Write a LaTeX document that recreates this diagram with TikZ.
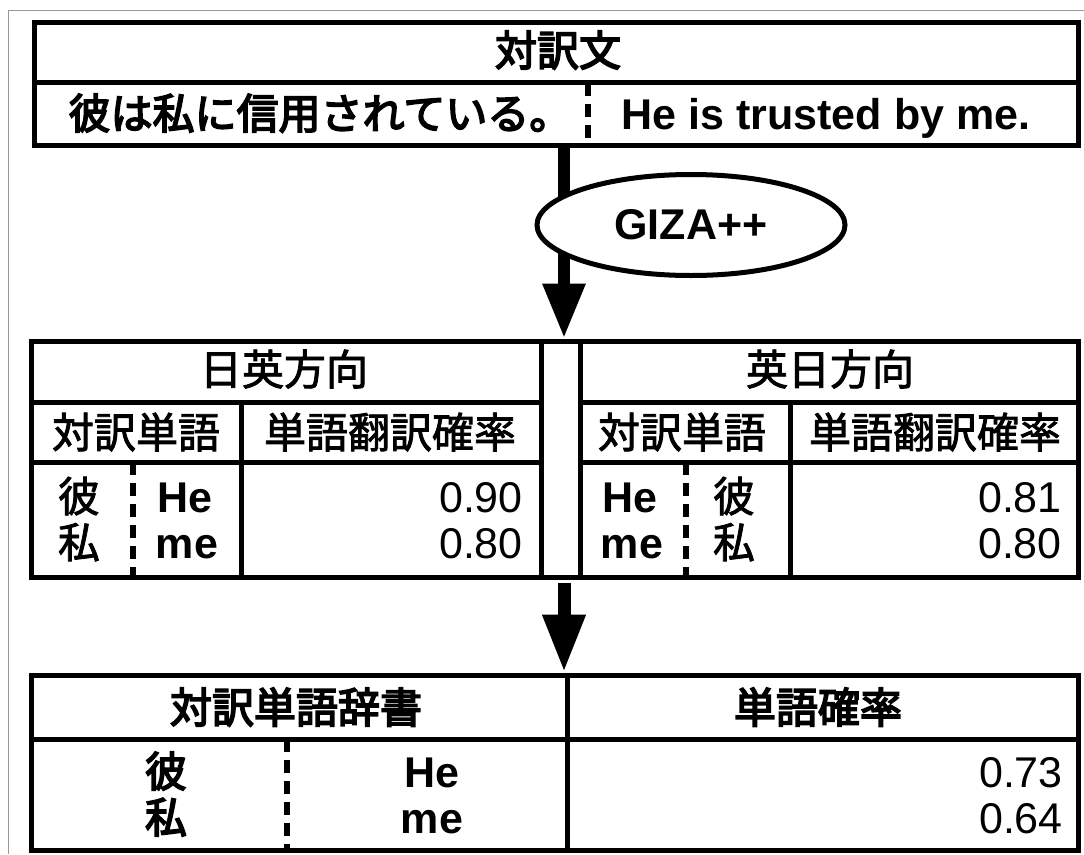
\documentclass[tikz,border=0pt]{standalone}
\usepackage{fontspec}
\setmainfont{Liberation Sans}
\newfontfamily\jp[FakeBold=2]{Noto Sans CJK JP}
\newfontfamily\jpb[FakeBold=4]{Noto Sans CJK JP}
\usetikzlibrary{shapes.geometric,arrows.meta}
\begin{document}
\begin{tikzpicture}[x=1pt,y=-1pt,
 rule/.style={line width=5pt},
 dashrule/.style={line width=5.5pt, dash pattern=on 13pt off 8pt},
 frame/.style={draw, rule, rectangle, inner sep=0pt},
 jpr/.style={font=\jp\fontsize{42}{42}\selectfont, inner sep=0pt, anchor=base},
 jpbold/.style={font=\jpb\fontsize{42}{42}\selectfont, inner sep=0pt, anchor=base},
 enb/.style={font=\bfseries\fontsize{43}{43}\selectfont, inner sep=0pt, anchor=base},
 num/.style={font=\fontsize{43}{43}\selectfont, inner sep=0pt, anchor=base east},
 bigarrow/.style={line width=12pt, -{Triangle[length=55pt,width=40pt]}},
 bigarrowb/.style={line width=13pt, -{Triangle[length=58pt,width=40pt]}},
]
\useasboundingbox (0,0) rectangle (1084,854);
\draw[line width=1pt, color=gray!80] (8.5,854) -- (8.5,10) -- (1084,10);
\coordinate (ax) at (564,0);

% top box
\node[frame, minimum width=1044pt, minimum height=123pt] (topbox) at (556,83.5) {};
\draw[rule] (34,82.5) -- (1078,82.5);
\draw[dashrule] (588,82.5) -- (588,145);
\node[jpbold] (t1) at (558,66) {対訳文};
\node[jpbold] (t2) at (320,129) {彼は私に信用されている。};
\node[enb] (t3) at (826,129) {He is trusted by me.};

% middle tables
\node[frame, minimum width=1047pt, minimum height=236pt] (mid) at (554.5,459) {};
\draw[rule] (541,341) -- (541,577);
\draw[rule] (580,341) -- (580,577);
\draw[rule] (31,402) -- (541,402);
\draw[rule] (31,462) -- (541,462);
\draw[rule] (580,402) -- (1078,402);
\draw[rule] (580,462) -- (1078,462);
\draw[rule] (241,402) -- (241,577);
\draw[rule] (790,402) -- (790,577);
\draw[dashrule] (133,462) -- (133,577);
\draw[dashrule] (686,462) -- (686,577);

\node[jpr] (l1) at (284,385) {日英方向};
\node[jpr] (l2) at (136,448) {対訳単語};
\node[jpr] (l3) at (390,448) {単語翻訳確率};
\node[jpr] (l4) at (79,512) {彼};
\node[jpr] (l5) at (79,558) {私};
\node[enb] (l6) at (185,512) {He};
\node[enb] (l7) at (187,558) {me};
\node[num] (l8) at (523,512) {0.90};
\node[num] (l9) at (523,558) {0.80};

\node[jpr] (r1) at (830,385) {英日方向};
\node[jpr] (r2) at (682,448) {対訳単語};
\node[jpr] (r3) at (935,448) {単語翻訳確率};
\node[enb] (r4) at (630,512) {He};
\node[enb] (r5) at (632,558) {me};
\node[jpr] (r6) at (734,512) {彼};
\node[jpr] (r7) at (734,558) {私};
\node[num] (r8) at (1062,512) {0.81};
\node[num] (r9) at (1062,558) {0.80};

% bottom table
\node[frame, minimum width=1047pt, minimum height=175pt] (bot) at (554.5,762.5) {};
\draw[rule] (31,739) -- (1078,739);
\draw[rule] (567,675) -- (567,850);
\draw[dashrule] (287,739) -- (287,850);
\node[jpbold] (b1) at (296,723) {対訳単語辞書};
\node[jpbold] (b2) at (818,723) {単語確率};
\node[jpbold] (b3) at (166,787) {彼};
\node[jpbold] (b4) at (166,833) {私};
\node[enb] (b5) at (432,787) {He};
\node[enb] (b6) at (432,833) {me};
\node[num] (b7) at (1063,787) {0.73};
\node[num] (b8) at (1063,833) {0.64};

% arrows
\draw[bigarrow] (topbox.south -| ax) -- (mid.north -| ax);
\node[draw, rule, ellipse, fill=white, minimum width=308pt, minimum height=101pt, inner sep=0pt, font=\bfseries\fontsize{43}{43}\selectfont] (giza) at (691,225) {GIZA++};
\draw[bigarrowb, shorten <=3.5pt] (mid.south -| ax) -- (bot.north -| ax);
\end{tikzpicture}
\end{document}
